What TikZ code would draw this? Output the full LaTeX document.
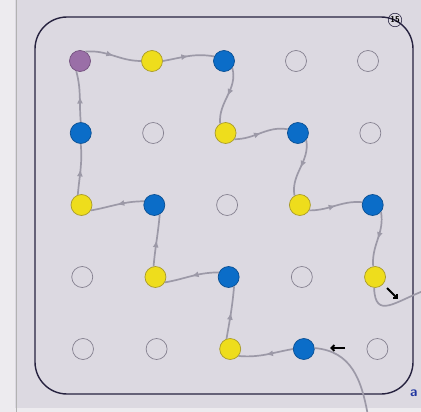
\documentclass[tikz,border=0pt]{standalone}
\usepackage{tikz}
\usetikzlibrary{
	arrows.meta,
	calc,
	decorations.markings
}
\usepackage{xcolor}

\definecolor{paper}{HTML}{DCD9E1}
\definecolor{margin}{HTML}{EDEBEF}
\definecolor{ink}{HTML}{26223F}
\definecolor{trail}{HTML}{9C99A7}
\definecolor{pu}{HTML}{9A6FA7}
\definecolor{ye}{HTML}{EEDD1C}
\definecolor{bl}{HTML}{0B6DC8}
\definecolor{em}{HTML}{DCD9E1}
\definecolor{edgepu}{HTML}{74527F}
\definecolor{edgeye}{HTML}{A99B2A}
\definecolor{edgebl}{HTML}{0A4F93}
\definecolor{edgeem}{HTML}{858190}
\definecolor{pen}{HTML}{2035A0}

\begin{document}
\begin{tikzpicture}[
		x=1pt, y=1pt,
		>=Stealth,
		dot/.style={
			circle,
			minimum size=21pt,
			inner sep=0pt,
			line width=0.7pt
		},
		flow/.style={
			draw=trail,
			line width=1.7pt,
			postaction={decorate},
			decoration={markings,
				mark=at position 0.5 with {\arrow{Latex[length=7pt,width=6pt]}}}
		},
		hint/.style={
			draw=black,
			line width=2pt,
			-{Straight Barb[length=3pt,width=6pt]}
		}
		]
		
		% Sheet
		\useasboundingbox (0,0) rectangle (421,-412);
		\clip (0,0) rectangle (421,-412);
		\fill[margin] (0,0) rectangle (421,-412);
		\fill[paper] (15,0) rectangle (421,-408);
		\draw[black!30, line width=0.8pt] (16,0) -- (16,-412);
		\draw[ink, line width=1.4pt, rounded corners=32pt] (35,-17) rectangle (413,-394);
		
		% Page number
		\node[circle, draw=ink, line width=0.6pt, inner sep=0.8pt,
		font=\sffamily\bfseries\fontsize{8.5}{8.5}\selectfont] (page) at (395,-20) {15};
		
		% Grid of pegs
		\foreach \kinds [count=\r from 0] in {
			{pu,ye,bl,em,em},
			{bl,em,ye,bl,em},
			{ye,bl,em,ye,bl},
			{em,ye,bl,em,ye},
			{em,em,ye,bl,em}}
		\foreach \k [count=\c from 0] in \kinds
		\node[dot, fill=\k, draw=edge\k] (g\c\r)
		at ({80+72*\c+\r*(0.75+0.4*\c)},{-61-72*\r}) {};
		
		% Ends of the trail
		\coordinate (exitR) at (426,-290);
		\coordinate (entryB) at (368,-416);
		
		% Upper trail
		\draw[flow] (g00.60) to[out=5,in=180] (g10.west);
		\draw[flow] (g10.east) to[out=10,in=170] (g20.155);
		\draw[flow] (g20.-40) to[out=-75,in=95] (g21.120);
		\draw[flow] (g21.-35) to[out=0,in=170] (g31.160);
		\draw[flow] (g31.-40) to[out=-80,in=100] (g32.120);
		\draw[flow] (g32.-30) to[out=0,in=175] (g42.165);
		\draw[flow] (g42.-40) to[out=-80,in=95] (g43.100);
		\draw[trail, line width=1.7pt] (g43.-95) to[out=-88,in=200,looseness=1.6] (exitR);
		
		% Lower trail
		\draw[trail, line width=1.7pt] (entryB) to[out=100,in=-5,looseness=1.1] (g34.5);
		\draw[flow] (g34.west) to[out=190,in=-5] (g24.-40);
		\draw[flow] (g24.110) to[out=80,in=-95] (g23.-60);
		\draw[flow] (g23.155) to[out=180,in=10] (g13.-30);
		\draw[flow] (g13.100) to[out=85,in=-95] (g12.-60);
		\draw[flow] (g12.160) to[out=180,in=10] (g02.-30);
		\draw[flow] (g02.110) to[out=85,in=-85] (g01.south);
		\draw[flow] (g01.north) to[out=95,in=-75] (g00.-110);
		
		% Pencil marks
		\coordinate (h1a) at (387,-288);
		\coordinate (h1b) at (398,-299);
		\coordinate (h2a) at (345,-348);
		\coordinate (h2b) at (330,-348);
		\draw[hint] (h1a) -- (h1b);
		\draw[hint] (h2a) -- (h2b);
		\node[pen, anchor=west, inner sep=0pt,
		font=\sffamily\bfseries\fontsize{14}{14}\selectfont] (mark) at (410,-393) {a};
		
	\end{tikzpicture}
\end{document}
